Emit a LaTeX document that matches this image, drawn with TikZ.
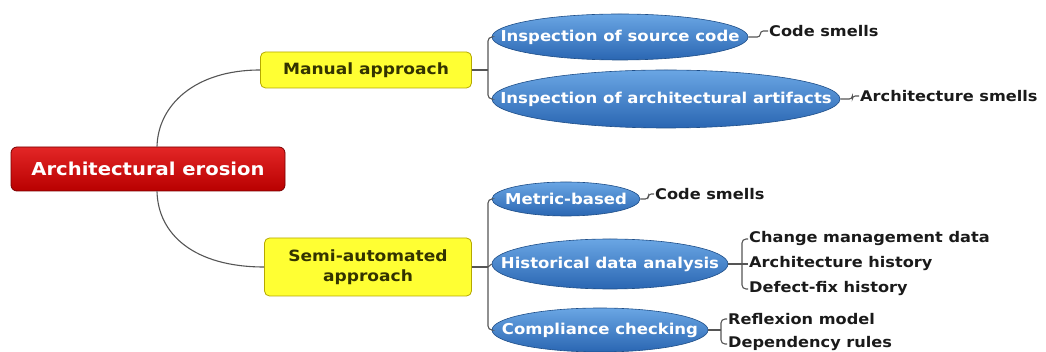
\documentclass[tikz,border=0pt]{standalone}
\usepackage{fontspec}
\setmainfont{DejaVu Sans}[FakeStretch=1.1]
\usetikzlibrary{shapes.geometric}
\definecolor{linegray}{HTML}{555555}
\definecolor{rootTop}{HTML}{E32626}
\definecolor{rootBot}{HTML}{B80000}
\definecolor{rootEdge}{HTML}{7A0000}
\definecolor{ylwFill}{HTML}{FFFF33}
\definecolor{ylwEdge}{HTML}{B5A800}
\definecolor{ylwText}{HTML}{333300}
\definecolor{bluTop}{HTML}{6AA6E4}
\definecolor{bluBot}{HTML}{2A66B2}
\definecolor{bluEdge}{HTML}{1E4E88}
\definecolor{leafText}{HTML}{1A1A1A}
% zero-width label so the ellipse size is fixed by its minimum dimensions
\newcommand\zwlabel[1]{\makebox[0pt]{#1}}
\tikzset{
  rootbox/.style={draw=rootEdge, line width=0.8pt, rounded corners=6pt,
    top color=rootTop, bottom color=rootBot, text=white,
    minimum width=274pt, minimum height=44pt, font=\bfseries\fontsize{17.8}{20}\selectfont},
  catbox/.style={draw=ylwEdge, line width=0.8pt, rounded corners=5pt,
    fill=ylwFill, text=ylwText, align=center,
    font=\bfseries\fontsize{15.5}{20}\selectfont},
  method/.style={ellipse, draw=bluEdge, line width=0.6pt, inner sep=0pt,
    top color=bluTop, bottom color=bluBot, text=white,
    font=\bfseries\fontsize{15}{17}\selectfont},
  leaf/.style={anchor=west, inner sep=1pt, text=leafText,
    font=\bfseries\fontsize{14.7}{17}\selectfont},
  link/.style={draw=linegray, line width=1.1pt},
}
\begin{document}
\begin{tikzpicture}[x=1pt, y=-1pt]
\useasboundingbox (0,0) rectangle (1046,352);

% root and categories
\node[rootbox] (root) at (148,169) {Architectural erosion};
\node[catbox, minimum width=211pt, minimum height=36pt] (man) at (366,70) {Manual approach};
\node[catbox, minimum width=207pt, minimum height=58pt] (semi) at (368,267) {Semi-automated\\approach};

% methods
\node[method, minimum width=256pt, minimum height=46pt] (src) at (620,37) {\zwlabel{Inspection of source code}};
\node[method, minimum width=348pt, minimum height=58pt] (art) at (666,99) {\zwlabel{Inspection of architectural artifacts}};
\node[method, minimum width=148pt, minimum height=34pt] (met) at (566,199) {\zwlabel{Metric-based}};
\node[method, minimum width=236pt, minimum height=50pt] (his) at (610,264) {\zwlabel{Historical data analysis}};
\node[method, minimum width=216pt, minimum height=44pt] (com) at (600,330) {\zwlabel{Compliance checking}};

% leaves
\node[leaf] (l1) at (768,31) {Code smells};
\node[leaf] (l2) at (859,96) {Architecture smells};
\node[leaf] (l3) at (654,194) {Code smells};
\node[leaf] (l4) at (748,239) {Change management data};
\node[leaf] (l5) at (748,264) {Architecture history};
\node[leaf] (l6) at (748,289) {Defect-fix history};
\node[leaf] (l7) at (727,319) {Reflexion model};
\node[leaf] (l8) at (727,344) {Dependency rules};

% junction points
\coordinate (jm) at (488,70);
\coordinate (js) at (488,267);
\coordinate (jh) at (742,264);
\coordinate (jc) at (721,330);

% root to categories
\draw[link] ([xshift=9pt]root.north) .. controls (158,105) and (195,70) .. (man.west);
\draw[link] ([xshift=9pt]root.south) .. controls (158,235) and (195,267) .. (semi.west);

% categories to methods
\draw[link] (man.east) -- (jm);
\draw[link, rounded corners=4pt] (src.west) -| (jm) |- (art.west);
\draw[link] (semi.east) -- (js);
\draw[link, rounded corners=4pt] (met.west) -| (js) |- (com.west);
\draw[link] (js) -- (his.west);

% methods to leaves
\draw[link, rounded corners=3pt] (src.east) -- ++(12,0) |- (l1.west);
\draw[link, rounded corners=3pt] (art.east) -- ++(12,0) |- (l2.west);
\draw[link, rounded corners=3pt] (met.east) -- ++(8,0) |- (l3.west);
\draw[link] (his.east) -- (jh);
\draw[link, rounded corners=4pt] (l4.west) -| (jh) |- (l6.west);
\draw[link] (jh) -- (l5.west);
\draw[link] (com.east) -- (jc);
\draw[link, rounded corners=4pt] (l7.west) -| (jc) |- (l8.west);
\end{tikzpicture}
\end{document}
